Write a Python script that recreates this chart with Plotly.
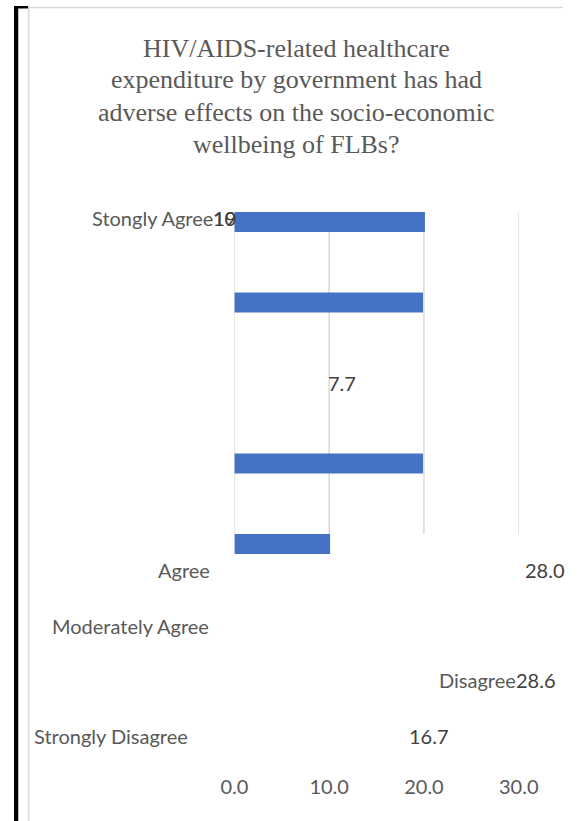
import plotly.graph_objects as go

W, H = 583, 821

# ---------------- data ----------------
title_lines = [
    "HIV/AIDS-related healthcare",
    "expenditure by government has had",
    "adverse effects on the socio-economic",
    "wellbeing of FLBs?",
]
categories = ["Stongly Agree", "Agree", "Moderately Agree", "Disagree", "Strongly Disagree"]
value_labels = ["19.0", "28.0", "7.7", "28.6", "16.7"]
bar_slots = [0, 1, 3, 4]
bar_lengths = [20.1, 19.9, 19.9, 10.1]
tick_vals = [0, 10, 20, 30]

# ---------------- helpers ----------------
def px(x):
    return x / W

def py(y):
    return 1 - y / H

GRAY_TXT = "#595959"
DARK_TXT = "#404040"
GRID = "#d9d9d9"
BAR = "#4472C4"
SANS = "Lato"
SERIF = "Liberation Serif"

fig = go.Figure()
fig.add_trace(go.Bar(
    x=bar_lengths, y=bar_slots, orientation="h", width=0.248,
    marker=dict(color=BAR, line=dict(width=0)), hoverinfo="skip",
))

shapes = []
for t in tick_vals:
    shapes.append(dict(type="line", xref="x", yref="y", x0=t, x1=t, y0=-0.124, y1=3.876,
                       line=dict(color=GRID, width=1.5), layer="below"))
# frame decorations
shapes += [
    dict(type="rect", xref="paper", yref="paper", x0=px(0), x1=px(4.5), y0=py(821), y1=py(6),
         fillcolor="black", line=dict(width=0)),
    dict(type="rect", xref="paper", yref="paper", x0=px(0), x1=px(15), y0=py(8.5), y1=py(6),
         fillcolor="black", line=dict(width=0)),
    dict(type="line", xref="paper", yref="paper", x0=px(15.5), x1=px(15.5), y0=py(7), y1=py(821),
         line=dict(color=GRID, width=1.5)),
    dict(type="line", xref="paper", yref="paper", x0=px(15), x1=px(583), y0=py(7.5), y1=py(7.5),
         line=dict(color=GRID, width=1.5)),
]

ann = []
title_y = [48, 80, 112, 144]
for line, yy in zip(title_lines, title_y):
    ann.append(dict(text=line, xref="paper", yref="paper", x=px(300), y=py(yy),
                    xanchor="center", yanchor="middle", showarrow=False,
                    font=dict(family=SERIF, size=26, color=GRAY_TXT)))

def label(text, x, y, anchor, color):
    ann.append(dict(text=text, xref="paper", yref="paper", x=px(x), y=py(y),
                    xanchor=anchor, yanchor="middle", showarrow=False,
                    font=dict(family=SANS, size=20, color=color)))

# category labels (as they appear in the original, displaced)
label(categories[0], 213, 218, "right", GRAY_TXT)
label(categories[1], 210, 570, "right", GRAY_TXT)
label(categories[2], 209, 626, "right", GRAY_TXT)
label(categories[3], 535, 680, "right", GRAY_TXT)
label(categories[4], 187, 736, "right", GRAY_TXT)
# value labels (overlapping/garbled as in the original)
label(value_labels[0][:2], 209, 218, "left", DARK_TXT)
label(value_labels[0][0] + value_labels[0][-1], 209, 218, "left", DARK_TXT)
label(value_labels[1], 541, 570, "left", DARK_TXT)
label(value_labels[2], 331, 383, "left", DARK_TXT)
label(value_labels[3], 531, 680, "left", DARK_TXT)
label(value_labels[4], 417, 736, "left", DARK_TXT)

fig.update_layout(
    width=W, height=H, autosize=False, margin=dict(l=0, r=0, t=0, b=0, pad=0),
    paper_bgcolor="white", plot_bgcolor="rgba(0,0,0,0)",
    showlegend=False, shapes=shapes, annotations=ann,
    xaxis=dict(domain=[px(234), px(536)], range=[0, 30], anchor="free", position=py(773),
               tickvals=tick_vals, tickformat=".1f", showgrid=False, zeroline=False,
               showline=False, ticks="", tickfont=dict(family=SANS, size=20, color=GRAY_TXT)),
    yaxis=dict(domain=[py(554), py(212)], range=[4.124, -0.124], visible=False,
               showgrid=False, zeroline=False),
)

fig.write_html("out.html", config={"displayModeBar": False})
